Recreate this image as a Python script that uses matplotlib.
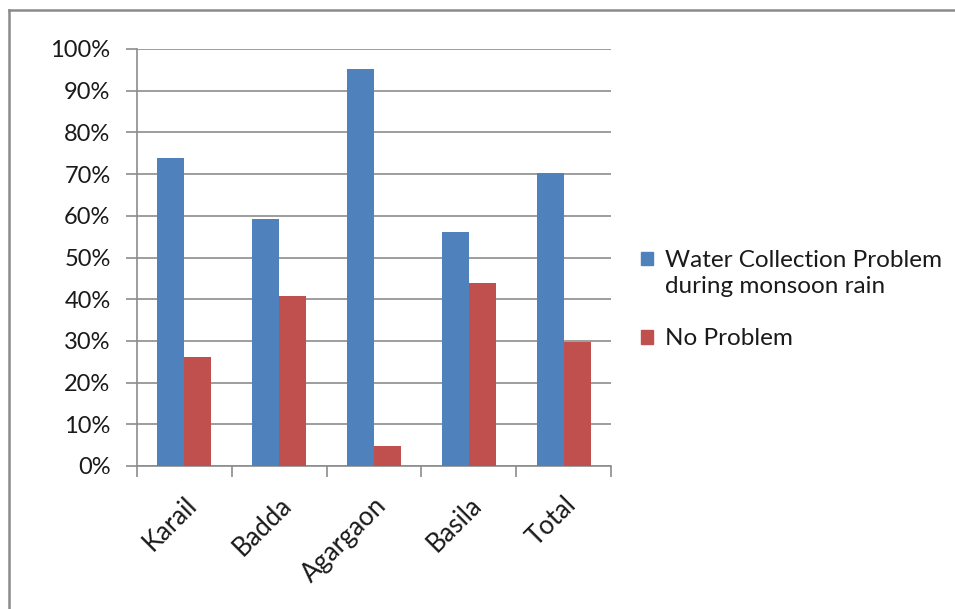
import matplotlib.pyplot as plt
import numpy as np
from matplotlib.lines import Line2D
from matplotlib.patches import Patch, Rectangle
from matplotlib.legend_handler import HandlerPatch
from matplotlib.ticker import PercentFormatter

# survey areas and answers (share of households, %)
areas = ["Karail", "Badda", "Agargaon", "Basila", "Total"]
problem = [73.8, 59.2, 95.2, 56.0, 70.2]
no_problem = [26.2, 40.8, 4.8, 44.0, 29.8]
series_names = ["Water Collection Problem\nduring monsoon rain", "No Problem"]

BLUE = "#4F81BD"
RED = "#C0504D"
GRID = "#8C8C8C"

plt.rcParams['font.family'] = ['Lato', 'DejaVu Sans']

fig = plt.figure(figsize=(9.55, 6.09), dpi=100)
ax = fig.add_axes([137 / 955, 1 - 466 / 609, (611 - 137) / 955, (466 - 49) / 609])

x = np.arange(len(areas))
w = 1 / 3.5  # excel gap width 150%
ax.bar(x - w / 2, problem, w, color=BLUE, zorder=3)
ax.bar(x + w / 2, no_problem, w, color=RED, zorder=3)

ax.set_xlim(-0.5, len(areas) - 0.5)
ax.set_ylim(0, 100)
ax.set_yticks(np.arange(0, 101, 10))
ax.yaxis.set_major_formatter(PercentFormatter(decimals=0))
ax.yaxis.grid(True, color=GRID, linewidth=1.2, zorder=0)

# category separators as tick marks on the x axis
ax.set_xticks(np.arange(-0.5, len(areas), 1.0))
ax.set_xticklabels([])
ax.set_xticks(x, minor=True)
ax.set_xticklabels(areas, minor=True, rotation=45, ha='right', rotation_mode='anchor',
                   fontsize=18.5, color='#1a1a1a')
ax.tick_params(axis='x', which='minor', length=0, pad=19)
ax.tick_params(axis='x', which='major', length=8, color=GRID, width=1.2)
ax.tick_params(axis='y', length=8, color=GRID, width=1.2, labelsize=17,
               labelcolor='#1a1a1a', pad=11)

for side in ['top', 'right']:
    ax.spines[side].set_visible(False)
for side in ['left', 'bottom']:
    ax.spines[side].set_color(GRID)
    ax.spines[side].set_linewidth(1.2)


# legend square sits level with the first line of a two-line label
def top_line_box(legend, orig_handle, xdescent, ydescent, width, height, fontsize):
    return Rectangle((-xdescent, -ydescent + 0.62 * fontsize), width, height)


handles = [Patch(color=BLUE), Patch(color=RED)]
leg = fig.legend(handles, series_names, loc='upper left',
                 bbox_to_anchor=(619 / 955, 1 - 228 / 609),
                 handler_map={handles[0]: HandlerPatch(patch_func=top_line_box)},
                 frameon=False, fontsize=17.5, handlelength=0.5, handleheight=0.5,
                 handletextpad=0.5, labelspacing=1.27)
for t in leg.get_texts():
    t.set_color('#1a1a1a')
    t.set_linespacing(1.33)

# chart area frame (left and top edges)
fig.add_artist(Line2D([9 / 955, 9 / 955], [0, 1 - 10 / 609], transform=fig.transFigure,
                      color='#8a8a8a', linewidth=1.8))
fig.add_artist(Line2D([9 / 955, 1], [1 - 10 / 609, 1 - 10 / 609], transform=fig.transFigure,
                      color='#8a8a8a', linewidth=1.8))

fig.savefig("out.png", dpi=100)
